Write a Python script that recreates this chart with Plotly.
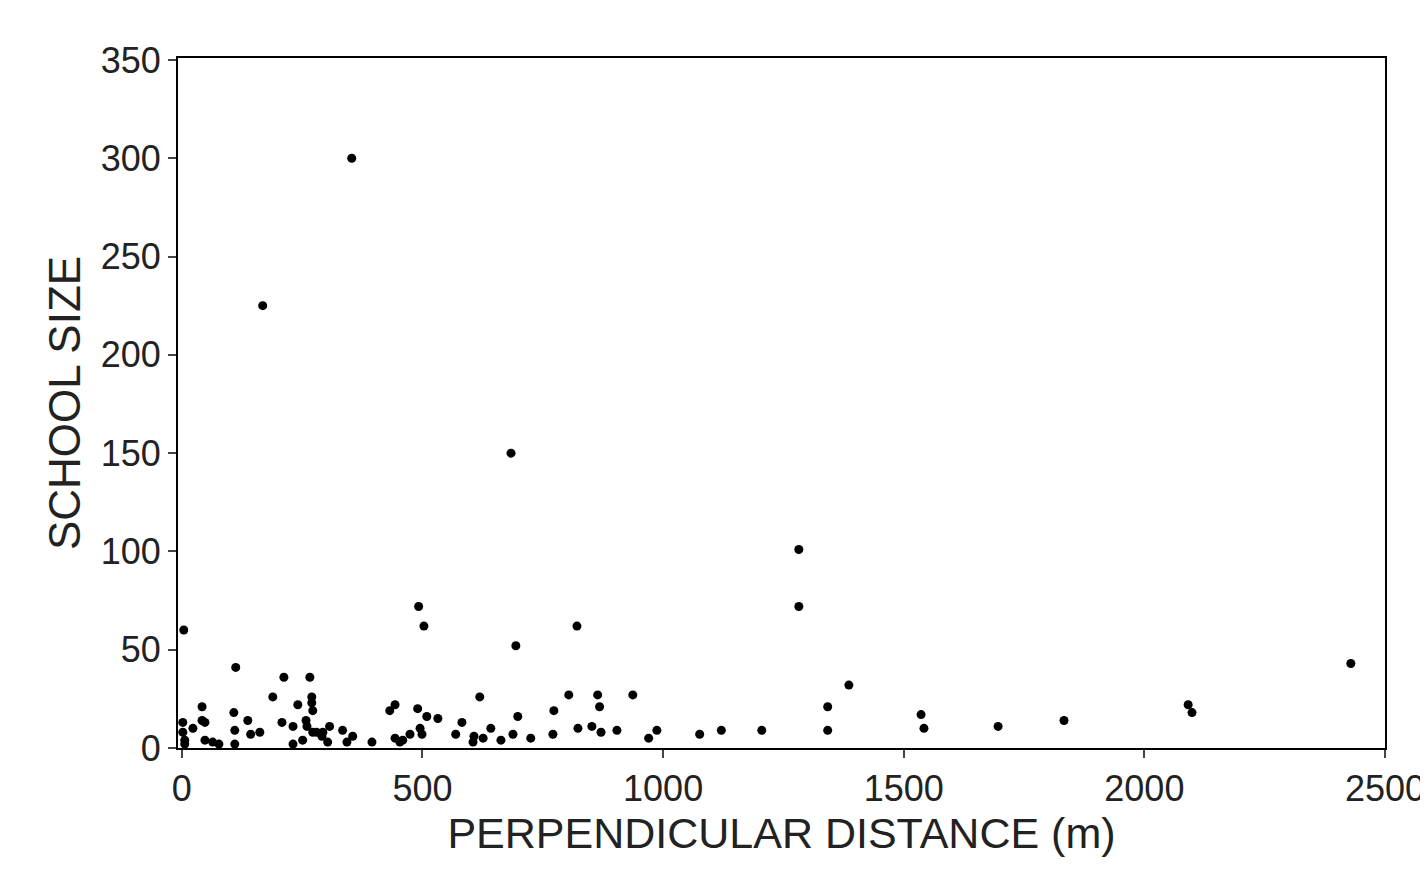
import plotly.graph_objects as go

# perpendicular distance (m) and school size
distance = [353, 168, 684, 1282, 1282, 492, 503, 821, 694, 4, 112, 2429, 1386,
            1342, 1342, 1536, 1542, 1696, 1833, 1076, 1121, 1205, 2091, 2099,
            212, 266, 189, 270, 270, 619, 804, 864, 937,
            42, 241, 272, 108, 432, 443, 490, 509, 532, 698, 773, 868,
            2, 42, 48, 137, 208, 231, 258, 260, 307, 582, 334, 280, 293, 823, 852, 871, 904, 987,
            2, 23, 110, 143, 162, 355, 343, 395, 443, 474, 495, 499, 569, 607, 626, 642, 663, 688, 725, 771, 970,
            6, 6, 48, 64, 77, 110, 231, 251, 272, 291, 303, 453, 459, 605]
school_size = [300, 225, 150, 101, 72, 72, 62, 62, 52, 60, 41, 43, 32,
               21, 9, 17, 10, 11, 14, 7, 9, 9, 22, 18,
               36, 36, 26, 26, 23, 26, 27, 27, 27,
               21, 22, 19, 18, 19, 22, 20, 16, 15, 16, 19, 21,
               13, 14, 13, 14, 13, 11, 14, 11, 11, 13, 9, 8, 8, 10, 11, 8, 9, 9,
               8, 10, 9, 7, 8, 6, 3, 3, 5, 7, 10, 7, 7, 6, 5, 10, 4, 7, 5, 7, 5,
               4, 2, 4, 3, 2, 2, 2, 4, 8, 6, 3, 3, 4, 3]

fig = go.Figure(go.Scatter(x=distance, y=school_size, mode="markers",
                           marker=dict(color="black", size=9)))

axis_style = dict(showline=True, linecolor="black", linewidth=2, mirror=True,
                  ticks="outside", ticklen=8, tickwidth=2, showgrid=False,
                  zeroline=False, automargin=False,
                  tickfont=dict(size=36, color="#222"))
fig.update_xaxes(range=[-8, 2500], tickvals=[0, 500, 1000, 1500, 2000, 2500],
                 title=dict(text="PERPENDICULAR DISTANCE (m)", font=dict(size=43, color="#222"), standoff=4),
                 **axis_style)
fig.update_yaxes(range=[0, 351], tickvals=[0, 50, 100, 150, 200, 250, 300, 350],
                 title=dict(text="SCHOOL SIZE", font=dict(size=44, color="#222"), standoff=6),
                 **axis_style)
fig.update_layout(width=1428, height=882, plot_bgcolor="white", paper_bgcolor="white",
                  font=dict(family="Liberation Sans"), showlegend=False,
                  margin=dict(l=170, r=51, t=50, b=142))
fig.write_html("out.html")
